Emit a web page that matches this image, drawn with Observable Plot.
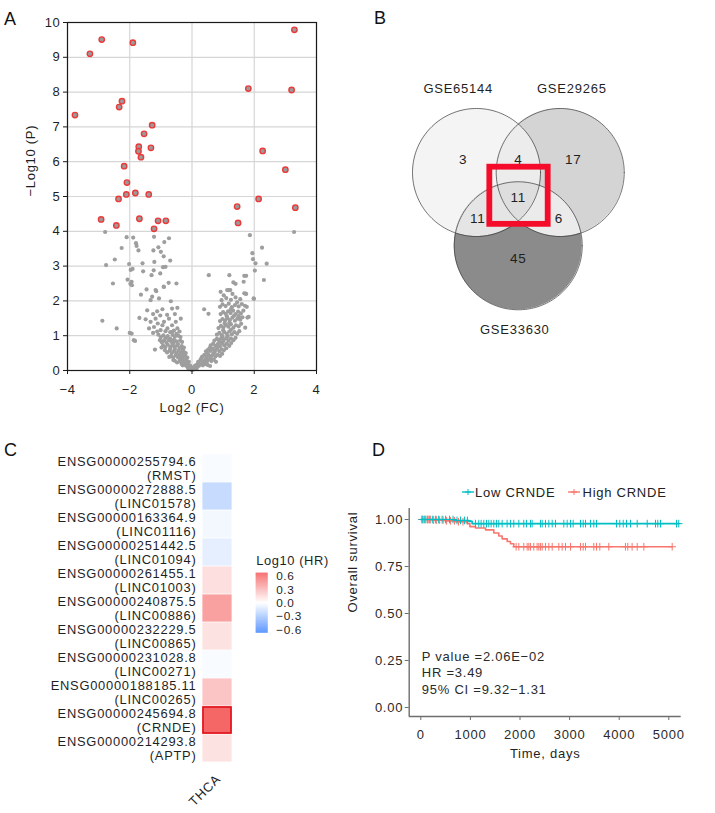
<!DOCTYPE html>
<html><head><meta charset="utf-8">
<script src="https://cdn.jsdelivr.net/npm/d3@7"></script>
<script src="https://cdn.jsdelivr.net/npm/@observablehq/plot@0.6"></script>
<style>
html,body{margin:0;padding:0;background:#fff;}
#root{position:relative;width:715px;height:813px;overflow:hidden;font-family:"Liberation Sans",Arial,Helvetica,sans-serif;color:#1a1a1a;}
.letter{position:absolute;font-size:18px;line-height:1;color:#111;}
.kmlegend{position:absolute;font-size:13px;letter-spacing:0.75px;line-height:1;color:#222;white-space:nowrap;}
.kmlegend span{position:absolute;top:0;}
.kmlegend svg{position:absolute;}
</style></head><body><div id="root"></div>
<script>
// ---------------- DATA ----------------
// Panel A: volcano plot (log2 FC, -log10 P)
const volcanoXTicks = [-4, -2, 0, 2, 4];
const volcanoYTicks = [0, 1, 2, 3, 4, 5, 6, 7, 8, 9, 10];
const redPts = [
  [-3.76,7.34],[-3.28,9.10],[-2.90,9.51],[-1.90,9.42],[-2.25,7.74],[-2.34,7.57],[-1.28,7.05],[-1.54,6.80],
  [-1.71,6.43],[-1.72,6.30],[-1.32,6.40],[-1.64,6.13],[-2.18,5.87],[-2.09,5.40],[1.81,8.10],[3.20,8.06],
  [3.29,9.79],[2.27,6.31],[3.00,5.77],
  [-2.36,4.93],[-2.11,5.06],[-1.82,5.10],[-1.39,5.06],[-2.92,4.34],[-2.43,4.17],[-1.69,4.36],[-1.09,4.30],
  [-0.84,4.30],[-1.22,4.07],[1.45,4.71],[1.48,4.24],[2.14,4.93],[3.32,4.68]
];
const grayOutliers = [
  [-2.79,3.98],[-2.76,3.03],[-2.88,1.43],[-2.54,2.50],[-2.48,3.19],[-2.42,1.21],[-2.26,3.52],[-2.10,3.83],
  [-1.89,3.82],[-1.80,3.66],[-1.78,3.58],[-1.72,3.45],[-2.02,3.06],[-1.97,2.89],[-1.91,2.92],[-2.07,2.61],
  [-1.94,2.55],[-1.98,2.49],[-1.93,2.45],[-1.64,2.18],[-1.59,3.08],[-1.57,2.85],[-1.46,2.33],[-1.21,3.12],
  [-1.24,3.45],[-1.22,3.84],[-1.08,3.54],[-1.00,3.41],[-0.89,3.69],[-0.74,3.80],[-0.91,3.28],[-0.93,2.97],
  [-0.85,2.98],[-0.70,3.16],[-1.23,2.88],[-1.30,2.74],[-1.02,2.79],[-1.15,2.28],[-0.91,2.41],[-0.75,2.52],
  [-0.50,2.50],[-2.00,1.08],[-1.94,1.06],[-1.83,0.85],[-1.19,0.60],[-1.69,1.51],[-1.87,0.87],
  [0.54,2.74],[1.86,3.89],[1.94,3.37],[1.96,3.20],[2.04,3.08],[2.25,3.53],[2.40,3.07],[2.02,2.87],
  [2.31,2.60],[1.99,2.06],[1.68,2.72],[1.74,2.72],[1.66,2.55],[1.33,2.53],[1.40,2.49],[1.20,2.74],
  [1.68,2.22],[1.74,2.20],[1.18,2.31],[1.76,1.83],[1.78,1.52],[1.71,1.23],[1.50,1.56],[0.39,1.76],
  [0.53,1.63],[3.28,3.98],[1.82,1.54],[1.98,2.07],[1.71,2.21]
];
const grayLeft = [
  [-0.02,0.02],[-0.05,0.05],[-0.1,0.04],[-0.08,0.09],[-0.13,0.07],[-0.03,0.08],
  [-0.06,0.14],[-0.12,0.16],[-0.18,0.13],[-0.24,0.17],[-0.3,0.15],[-0.15,0.2],[-0.22,0.21],[-0.33,0.19],
  [-0.1,0.25],[-0.17,0.28],[-0.25,0.24],[-0.32,0.29],[-0.4,0.26],[-0.48,0.23],[-0.55,0.28],[-0.2,0.31],[-0.38,0.32],[-0.6,0.3],
  [-0.15,0.37],[-0.22,0.42],[-0.3,0.36],[-0.37,0.41],[-0.45,0.38],[-0.52,0.44],[-0.6,0.37],[-0.67,0.42],[-0.73,0.39],[-0.28,0.45],[-0.42,0.46],
  [-0.2,0.5],[-0.27,0.55],[-0.35,0.52],[-0.43,0.57],[-0.5,0.5],[-0.58,0.55],[-0.65,0.5],[-0.72,0.57],[-0.8,0.52],[-0.87,0.58],[-0.3,0.6],[-0.55,0.61],[-0.7,0.62],
  [-0.26,0.66],[-0.33,0.7],[-0.4,0.65],[-0.48,0.72],[-0.56,0.67],[-0.63,0.73],[-0.7,0.68],[-0.78,0.74],[-0.86,0.67],[-0.93,0.72],[-0.98,0.66],[-0.45,0.76],[-0.6,0.78],
  [-0.32,0.82],[-0.38,0.86],[-0.5,0.84],[-0.58,0.88],[-0.66,0.82],[-0.74,0.87],[-0.82,0.8],[-0.9,0.86],[-0.97,0.81],[-1.03,0.87],[-0.7,0.92],[-0.85,0.93],
  [-0.37,0.96],[-0.44,1.0],[-0.55,0.97],[-0.62,1.02],[-0.78,0.99],[-0.92,1.01],[-1.0,0.96],[-1.08,1.03],[-0.5,1.05],
  [-0.4,1.12],[-0.58,1.15],[-0.7,1.1],[-0.85,1.13],[-1.12,1.12],[-1.25,1.08],[-0.47,1.21],[-0.63,1.11],[-0.79,1.21],
  [-1.01,1.16],[-1.22,1.25],[-1.38,1.21],[-0.52,1.4],[-0.74,1.49],[-0.9,1.4],[-1.17,1.49],[-1.33,1.4],[-1.49,1.47],
  [-0.36,1.49],[-0.64,1.3],[-0.95,1.3],[-1.1,1.35],[-0.47,1.8],[-0.64,1.78],[-0.95,1.76],[-1.12,1.7],[-1.44,1.73],
  [-1.33,2.02],[-1.28,2.12],[-1.06,2.07],[-0.68,1.99],[-1.17,2.31],[-0.9,2.4],[-0.55,1.62],[-0.8,1.6],[-1.02,1.58],[-1.25,1.62]
];
const grayRight = [
  [0.02,0.02],[0.05,0.06],[0.09,0.04],[0.12,0.09],[0.06,0.1],[0.15,0.06],
  [0.1,0.14],[0.16,0.17],[0.22,0.13],[0.28,0.18],[0.35,0.15],[0.42,0.19],[0.5,0.16],[0.58,0.13],[0.2,0.2],
  [0.2,0.25],[0.27,0.3],[0.34,0.24],[0.41,0.29],[0.48,0.26],[0.55,0.32],[0.62,0.27],[0.7,0.31],[0.77,0.25],[0.3,0.35],[0.45,0.34],[0.6,0.36],
  [0.33,0.4],[0.4,0.45],[0.47,0.39],[0.54,0.44],[0.61,0.41],[0.68,0.47],[0.75,0.4],[0.82,0.45],[0.9,0.42],[0.97,0.48],[0.5,0.5],[0.72,0.52],
  [0.45,0.55],[0.52,0.6],[0.6,0.56],[0.67,0.62],[0.74,0.57],[0.81,0.63],[0.88,0.55],[0.95,0.61],[1.02,0.58],[1.1,0.64],[0.58,0.66],[0.78,0.68],
  [0.6,0.72],[0.68,0.77],[0.75,0.71],[0.83,0.76],[0.9,0.7],[0.97,0.78],[1.04,0.72],[1.12,0.77],[1.2,0.71],[1.26,0.79],[0.88,0.82],[1.0,0.84],
  [0.72,0.86],[0.8,0.91],[0.87,0.87],[0.94,0.93],[1.02,0.88],[1.1,0.93],[1.17,0.86],[1.25,0.92],[1.33,0.87],[1.4,0.94],[0.98,0.97],[1.15,0.99],
  [0.8,1.03],[0.88,1.08],[0.96,1.02],[1.04,1.1],[1.12,1.05],[1.2,1.12],[1.28,1.04],[1.36,1.1],[1.45,1.06],[1.52,1.13],[1.0,1.16],[1.25,1.17],
  [0.85,1.22],[0.93,1.28],[1.01,1.24],[1.09,1.31],[1.17,1.26],[1.25,1.33],[1.33,1.23],[1.41,1.3],[1.5,1.27],[1.58,1.34],[1.2,1.37],[1.05,1.36],
  [0.9,1.42],[0.98,1.48],[1.06,1.44],[1.14,1.5],[1.22,1.45],[1.3,1.52],[1.38,1.43],[1.46,1.49],[1.55,1.46],[1.62,1.53],[1.12,1.56],[1.35,1.57],
  [0.92,1.62],[1.0,1.68],[1.08,1.63],[1.16,1.7],[1.24,1.65],[1.32,1.72],[1.4,1.62],[1.48,1.69],[1.57,1.64],[1.65,1.72],[1.25,1.76],
  [0.9,1.83],[0.98,1.9],[1.08,1.85],[1.18,1.92],[1.28,1.82],[1.38,1.88],[1.5,1.84],[1.6,1.91],[1.7,1.86],[1.45,1.96],
  [0.95,2.02],[1.1,2.08],[1.25,2.03],[1.4,2.1],[1.55,2.05],[1.02,2.16],[0.92,2.26],[1.13,2.31],[1.23,2.31],[1.3,2.2]
];

// Panel B: Venn diagram
const vennSets = ["GSE65144", "GSE29265", "GSE33630"];
const vennRegions = [[0], [0, 1], [1], [0, 1, 2], [0, 2], [1, 2], [2]];
const vennCounts = [3, 4, 17, 11, 11, 6, 45];

// Panel C: heatmap of log10(HR) in THCA
const heatCancer = ["THCA"];
const heatGenes = ["ENSG00000255794.6","ENSG00000272888.5","ENSG00000163364.9","ENSG00000251442.5","ENSG00000261455.1",
  "ENSG00000240875.5","ENSG00000232229.5","ENSG00000231028.8","ENSG00000188185.11","ENSG00000245694.8","ENSG00000214293.8"];
const heatSymbols = ["RMST","LINC01578","LINC01116","LINC01094","LINC01003","LINC00886","LINC00865","LINC00271","LINC00265","CRNDE","APTP"];
const heatLog10HR = [-0.02, -0.17, -0.035, -0.075, 0.11, 0.33, 0.10, -0.02, 0.20, 0.53, 0.10];
const heatLegendTicks = [-0.6, -0.3, 0, 0.3, 0.6];

// Panel D: Kaplan-Meier survival, CRNDE
const kmGroups = ["Low CRNDE", "High CRNDE"];
const lowTime = [0, 700, 968, 1036, 5200];
const lowSurv = [1, 0.995, 0.99, 0.978, 0.978];
const highTime = [0, 230, 498, 700, 935, 990, 1103, 1304, 1472, 1573, 1640, 1742, 1808, 1875, 5068];
const highSurv = [1, 0.997, 0.993, 0.988, 0.978, 0.962, 0.955, 0.945, 0.928, 0.912, 0.897, 0.883, 0.871, 0.855, 0.855];
const lowCensor = [30,80,130,180,240,300,360,430,500,580,650,730,800,880,940,1102,1169,1216,1270,1324,1371,1418,1472,1525,1572,
  1640,1740,1808,1875,1976,2076,2130,2211,2244,2412,2447,2514,2581,2649,2716,2883,2951,3018,3072,3220,3274,3321,3421,3488,3542,
  3946,4012,4081,4147,4228,4363,4565,4732,4778,4833,5155,5200];
const highCensor = [20,60,100,150,200,260,320,380,450,520,600,680,760,850,1922,1976,2076,2144,2177,2211,2278,2345,2379,2412,
  2447,2514,2581,2649,2783,2850,2917,3018,3220,3274,3321,3488,3542,3609,3790,4126,4173,4260,4363,4497,5068];
const kmXTicks = [0, 1000, 2000, 3000, 4000, 5000];
const kmYTicks = [0, 0.25, 0.5, 0.75, 1];
const kmStats = ["P value =2.06E\u221202", "HR =3.49", "95% CI =9.32\u22121.31"];

// ---------------- RENDER ----------------
const FONT = '"Liberation Sans", Arial, Helvetica, sans-serif';
const root = document.getElementById("root");
function place(node, left, top, ls) {
  node.style.position = "absolute"; node.style.left = left + "px"; node.style.top = top + "px";
  if (ls) node.style.letterSpacing = ls;
  root.appendChild(node);
}
function letter(t, left, top) {
  const d = document.createElement("div"); d.className = "letter"; d.textContent = t;
  d.style.left = left + "px"; d.style.top = top + "px"; root.appendChild(d);
}
const baseStyle = (fs) => ({fontFamily: FONT, fontSize: fs, color: "#1f1f1f", background: "transparent", overflow: "visible"});

// ---- Panel A ----
const toXY = a => a.map(([x, y]) => ({x, y}));
const grayAll = toXY([...grayOutliers, ...grayLeft, ...grayRight]);
const volcano = Plot.plot({
  width: 340, height: 420, marginLeft: 67, marginRight: 24, marginTop: 22, marginBottom: 50,
  style: baseStyle("13px"),
  x: {domain: [-4, 4]}, y: {domain: [0, 10]},
  marks: [
    Plot.gridX(volcanoXTicks, {stroke: "#d6d6d6", strokeOpacity: 1, strokeWidth: 1.2}),
    Plot.gridY(volcanoYTicks, {stroke: "#d6d6d6", strokeOpacity: 1, strokeWidth: 1.2}),
    Plot.dot(grayAll, {x: "x", y: "y", r: 2.1, fill: "#9e9e9e"}),
    Plot.dot(toXY(redPts), {x: "x", y: "y", r: 2.7, fill: "#9a9a9a", stroke: "#ec3a3a", strokeWidth: 1.4}),
    Plot.frame({stroke: "#1a1a1a", strokeWidth: 1.2}),
    Plot.axisX(volcanoXTicks, {tickSize: 4, tickPadding: 10, label: null, stroke: "#1a1a1a"}),
    Plot.axisY(volcanoYTicks, {tickSize: 4, tickPadding: 3, label: null, stroke: "#1a1a1a"}),
    Plot.text(["Log2 (FC)"], {text: d => d, frameAnchor: "bottom", dy: 41, fontSize: 13}),
    Plot.text(["\u2212Log10 (P)"], {text: d => d, frameAnchor: "left", dx: -37, rotate: -90, fontSize: 13})
  ]
});
place(volcano, 0, 0, "0.7px");

// ---- Panel B ----
const vennLayout = {
  centers: [[0, 0], [1.308, 0], [0.652, 1.145]], r: 1,
  fills: ["#f4f4f4", "#d4d4d4", "#8b8b8b"],
  overlapFills: {"0,1": "#ececec", "0,2": "#e5e5e5", "1,2": "#ebebeb", "0,1,2": "#dedede"},
  labelPos: [[-0.208,-0.203],[0.656,-0.203],[1.51,-0.203],[0.652,0.386],[0.02,0.723],[1.286,0.723],[0.652,1.339]],
  namePos: [[-0.286,-1.308],[1.489,-1.308],[0.598,2.458]]
};
const C = vennLayout.centers, R = vennLayout.r;
function lens(idx) {
  const xmin = Math.max(...idx.map(i => C[i][0] - R)), xmax = Math.min(...idx.map(i => C[i][0] + R));
  const out = [];
  const n = 400;
  for (let k = 0; k <= n; k++) {
    const x = xmin + (xmax - xmin) * k / n;
    let lo = -Infinity, hi = Infinity;
    for (const i of idx) {
      const dx = x - C[i][0], h = Math.sqrt(Math.max(0, R * R - dx * dx));
      lo = Math.max(lo, C[i][1] - h); hi = Math.min(hi, C[i][1] + h);
    }
    if (hi >= lo) out.push({x, lo, hi});
  }
  return out;
}
const outlines = [];
C.forEach((c, i) => { for (let a = 0; a <= 360; a += 2) outlines.push({i, x: c[0] + R * Math.cos(a * Math.PI / 180), y: c[1] + R * Math.sin(a * Math.PI / 180)}); });
const regionLabels = vennRegions.map((reg, k) => ({count: vennCounts[k], x: vennLayout.labelPos[k][0], y: vennLayout.labelPos[k][1], reg}));
const triple = regionLabels.find(d => d.reg.length === 3);
const setLabels = vennSets.map((s, i) => ({name: s, x: vennLayout.namePos[i][0], y: vennLayout.namePos[i][1]}));
const vennMarks = [];
C.forEach((c, i) => vennMarks.push(Plot.area(lens([i]), {x1: "x", y1: "lo", y2: "hi", fill: vennLayout.fills[i]})));
for (const key of Object.keys(vennLayout.overlapFills)) {
  const idx = key.split(",").map(Number);
  vennMarks.push(Plot.area(lens(idx), {x1: "x", y1: "lo", y2: "hi", fill: vennLayout.overlapFills[key]}));
}
vennMarks.push(Plot.line(outlines, {x: "x", y: "y", z: "i", stroke: "#3a3a3a", strokeWidth: 0.7}));
vennMarks.push(Plot.text(regionLabels, {x: "x", y: "y", text: d => String(d.count), fontSize: 13.5, fill: "#1f1f1f"}));
vennMarks.push(Plot.text(setLabels, {x: "x", y: "y", text: "name", fontSize: 13, fill: "#1f1f1f"}));
vennMarks.push(Plot.rect([triple], {x1: d => d.x - 0.444, x2: d => d.x + 0.468, y1: d => d.y - 0.469, y2: d => d.y + 0.424,
  fill: "none", stroke: "#f40c2a", strokeWidth: 5.8}));
const venn = Plot.plot({
  width: 335, height: 400, margin: 0,
  style: baseStyle("13px"),
  x: {domain: [-1.5, 3.734], axis: null},
  y: {domain: [-2.6875, 3.5625], reverse: true, axis: null},
  marks: vennMarks
});
place(venn, 380, 0, "0.75px");

// ---- Panel C ----
const colorOpts = {type: "linear", domain: [-0.675, 0, 0.675], range: ["#1f70ff", "#ffffff", "#f23c3c"], interpolate: "rgb"};
const heatData = heatGenes.map((g, i) => ({cancer: heatCancer[0], gene: g, symbol: heatSymbols[i], v: heatLog10HR[i]}));
const heat = Plot.plot({
  width: 232, height: 373, marginLeft: 202, marginRight: 0, marginTop: 9.3, marginBottom: 45.7,
  style: baseStyle("12.9px"),
  x: {domain: heatCancer, padding: 0, axis: null},
  y: {domain: heatGenes, padding: 0, axis: null},
  color: colorOpts,
  marks: [
    Plot.cell(heatData, {x: "cancer", y: "gene", fill: "v", inset: 0.4}),
    Plot.cell(heatData.filter(d => d.symbol === "CRNDE"), {x: "cancer", y: "gene", fill: null, stroke: "#e0101a", strokeWidth: 1.6, inset: 1}),
    Plot.text(heatData, {y: "gene", frameAnchor: "left", dx: -6, textAnchor: "end", lineHeight: 1.12,
      text: d => d.gene + "\n(" + d.symbol + ")", fontSize: 12.9, fill: "#1f1f1f"}),
    Plot.text(heatCancer, {x: d => d, text: d => d, frameAnchor: "bottom", dx: 4, dy: 12, rotate: -45, textAnchor: "end", fontSize: 13, fill: "#1f1f1f"})
  ]
});
place(heat, 0, 440, "0.75px");

const legendSteps = d3.range(-0.675, 0.675, 0.005);
const heatLegend = Plot.plot({
  width: 80, height: 92, marginLeft: 5.7, marginRight: 62.3, marginTop: 22.7, marginBottom: 9.3,
  style: baseStyle("11.8px"),
  x: {domain: [0, 1], axis: null},
  y: {domain: [-0.675, 0.675], axis: null},
  color: colorOpts,
  marks: [
    Plot.rect(legendSteps, {x1: 0, x2: 1, y1: d => d, y2: d => Math.min(0.675, d + 0.0055), fill: d => d}),
    Plot.axisY(heatLegendTicks, {anchor: "right", tickSize: 0, tickPadding: 8, tickFormat: d3.format(".1f"), label: null, fill: "#1f1f1f", fontSize: 11.8}),
    Plot.text(["Log10 (HR)"], {text: d => d, frameAnchor: "top-left", dy: -12.5, lineAnchor: "middle", textAnchor: "start", fontSize: 12.9, fill: "#1f1f1f"})
  ]
});
place(heatLegend, 250, 550, "0.6px");

// ---- Panel D ----
function survAt(times, surv, t) { let s = surv[0]; for (let i = 0; i < times.length; i++) if (times[i] <= t) s = surv[i]; return s; }
const lowCurve = lowTime.map((t, i) => ({t, s: lowSurv[i]}));
const highCurve = highTime.map((t, i) => ({t, s: highSurv[i]}));
const lowC = lowCensor.map(t => ({t, s: survAt(lowTime, lowSurv, t)}));
const highC = highCensor.map(t => ({t, s: survAt(highTime, highSurv, t)}));
const kmColors = {low: "#00BFC4", high: "#F8766D"};
const kmX = [-234, 5250], kmY = [-0.048, 1.0585];
const km = Plot.plot({
  width: 375, height: 343, marginLeft: 68.7, marginRight: 34.3, marginTop: 38, marginBottom: 97,
  style: baseStyle("13px"),
  x: {domain: kmX}, y: {domain: kmY},
  marks: [
    Plot.ruleX([kmX[0]], {stroke: "#6e6e6e", strokeWidth: 1.4}),
    Plot.ruleY([kmY[0]], {stroke: "#6e6e6e", strokeWidth: 1.4}),
    Plot.axisX(kmXTicks, {tickSize: 4, tickPadding: 9, tickFormat: d3.format("d"), label: null, stroke: "#6e6e6e", fill: "#2a2a2a"}),
    Plot.axisY(kmYTicks, {tickSize: 4, tickPadding: 2, tickFormat: d3.format(".2f"), label: null, stroke: "#6e6e6e", fill: "#2a2a2a"}),
    Plot.line(highCurve, {x: "t", y: "s", curve: "step-after", stroke: kmColors.high, strokeWidth: 1.6}),
    Plot.line(lowCurve, {x: "t", y: "s", curve: "step-after", stroke: kmColors.low, strokeWidth: 1.6}),
    Plot.dot(highC, {x: "t", y: "s", symbol: "plus", r: 2.6, stroke: kmColors.high, strokeWidth: 1}),
    Plot.dot(lowC, {x: "t", y: "s", symbol: "plus", r: 2.6, stroke: kmColors.low, strokeWidth: 1}),
    Plot.text([kmStats.join("\n")], {text: d => d, x: 0, y: 0.188, dx: 1, textAnchor: "start", lineAnchor: "middle", lineHeight: 1.28, fontSize: 13, fill: "#2a2a2a"}),
    Plot.text(["Time, days"], {text: d => d, frameAnchor: "bottom", dy: 41, fontSize: 13, fill: "#1f1f1f"}),
    Plot.text(["Overall survival"], {text: d => d, frameAnchor: "left", dx: -56, rotate: -90, fontSize: 13, fill: "#1f1f1f"})
  ]
});
place(km, 340, 470, "0.75px");

// KM legend (above the plot)
const leg = document.createElement("div"); leg.className = "kmlegend"; leg.style.left = "0px"; leg.style.top = "0px";
const legItems = [{label: kmGroups[0], color: kmColors.low, sx: 462, tx: 475}, {label: kmGroups[1], color: kmColors.high, sx: 568, tx: 582.5}];
let html = "";
for (const it of legItems) {
  html += `<svg width="12" height="10" style="left:${it.sx}px;top:487px"><line x1="0" y1="5" x2="12" y2="5" stroke="${it.color}" stroke-width="1.4"/><line x1="6" y1="2" x2="6" y2="8" stroke="${it.color}" stroke-width="1"/><line x1="3" y1="5" x2="9" y2="5" stroke="${it.color}" stroke-width="1"/></svg>`;
  html += `<span style="left:${it.tx}px;top:485.5px">${it.label}</span>`;
}
leg.innerHTML = html;
root.appendChild(leg);

letter("A", 4, 10);
letter("B", 374, 9);
letter("C", 4, 440.5);
letter("D", 372, 440.5);
</script></body></html>
